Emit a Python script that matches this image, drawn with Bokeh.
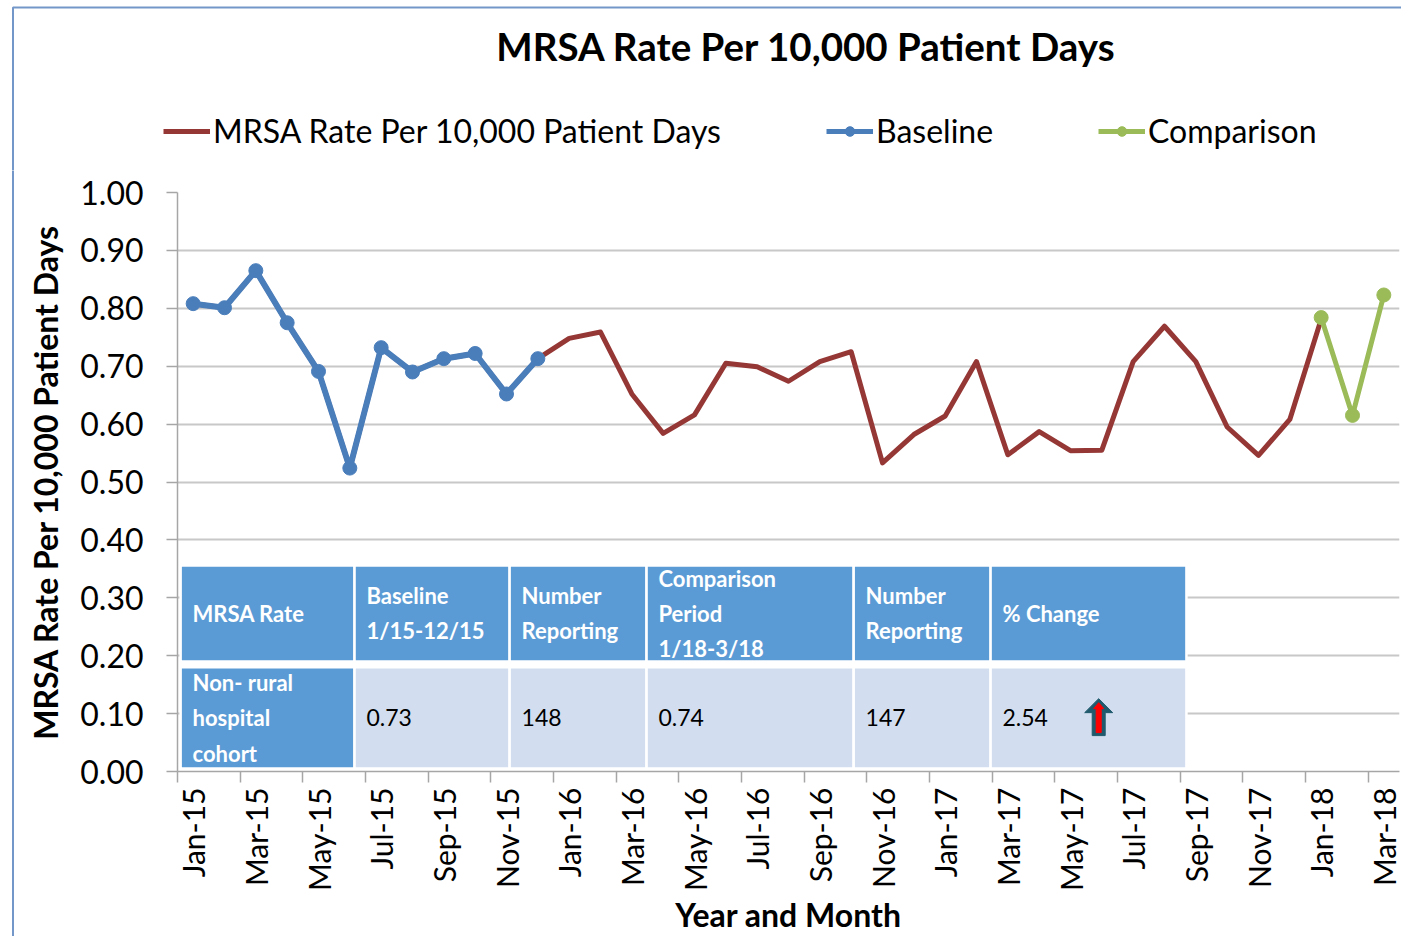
import math
from bokeh.plotting import figure
from bokeh.layouts import column, row
from bokeh.models import (Range1d, FixedTicker, Legend, LegendItem, PrintfTickFormatter, Label)
from bokeh.core.properties import value
from bokeh.embed import file_html
from bokeh.resources import INLINE

# ---------------- data ----------------
chart_title = "MRSA Rate Per 10,000 Patient Days"
series_names = ["MRSA Rate Per 10,000 Patient Days", "Baseline", "Comparison"]

months = ["Jan-15", "Feb-15", "Mar-15", "Apr-15", "May-15", "Jun-15", "Jul-15", "Aug-15",
          "Sep-15", "Oct-15", "Nov-15", "Dec-15",
          "Jan-16", "Feb-16", "Mar-16", "Apr-16", "May-16", "Jun-16", "Jul-16", "Aug-16",
          "Sep-16", "Oct-16", "Nov-16", "Dec-16",
          "Jan-17", "Feb-17", "Mar-17", "Apr-17", "May-17", "Jun-17", "Jul-17", "Aug-17",
          "Sep-17", "Oct-17", "Nov-17", "Dec-17",
          "Jan-18", "Feb-18", "Mar-18"]

# Baseline period (Jan-15 .. Dec-15)
baseline = [0.808, 0.801, 0.865, 0.775, 0.691, 0.524, 0.732, 0.690, 0.713, 0.722, 0.652, 0.713]

# MRSA rate (Jan-15 .. Jan-18)
rate = [0.808, 0.801, 0.865, 0.775, 0.691, 0.524, 0.732, 0.690, 0.713, 0.722, 0.652, 0.713,
        0.748, 0.759, 0.652, 0.584, 0.616, 0.705, 0.699, 0.674, 0.708, 0.725, 0.533, 0.582,
        0.614, 0.708, 0.547, 0.587, 0.554, 0.555, 0.708, 0.769, 0.708, 0.595, 0.546, 0.608,
        0.781]

# Comparison period (Jan-18 .. Mar-18)
comparison = [0.784, 0.615, 0.823]

y_ticks = [0.0, 0.1, 0.2, 0.3, 0.4, 0.5, 0.6, 0.7, 0.8, 0.9, 1.0]

table_header = ["MRSA Rate", "Baseline\n1/15-12/15", "Number\nReporting",
                "Comparison\nPeriod\n1/18-3/18", "Number\nReporting", "% Change"]
table_row_label = "Non- rural\nhospital\ncohort"
table_row_values = ["0.73", "148", "0.74", "147", "2.54"]

# ---------------- styles ----------------
FONT = "Lato"
RED = "#953735"
BLUE = "#4A7EBB"
GREEN = "#9BBB59"
HEAD_BLUE = "#5B9BD5"
CELL_LIGHT = "#D2DEEF"
FRAME_BLUE = "#7397C8"

W = 1401
HH = 170          # header (title + legend) height
HM = 766          # main chart height
SW = 14           # left strip width (chart-area border)
BL, BR, BT, BB = 177 - SW, 2, 22, 164

def blank(fig):
    fig.grid.visible = False
    fig.outline_line_color = None
    fig.background_fill_color = "white"
    fig.border_fill_color = "white"

# ---------------- header: title + legend ----------------
header = figure(width=W, height=HH, output_backend="svg", toolbar_location=None,
                x_range=Range1d(0, W), y_range=Range1d(HH, 0),
                x_axis_location=None, y_axis_location=None, min_border=0)
blank(header)

strip = figure(width=SW, height=HM, output_backend="svg", toolbar_location=None,
               x_range=Range1d(0, SW), y_range=Range1d(HM, 0),
               x_axis_location=None, y_axis_location=None, min_border=0)
blank(strip)

p = figure(width=W - SW, height=HM, output_backend="svg", toolbar_location=None,
           x_range=Range1d(-0.5, len(months) - 0.5), y_range=Range1d(0, 1),
           min_border_left=BL, min_border_right=BR, min_border_top=BT, min_border_bottom=BB)

for fig in (header, strip, p):
    fig.frame_align = False

# chart-area border (top and left edges)
header.line(x=[12.5, 12.5, W + 10], y=[HH + 10, 7, 7], line_color=FRAME_BLUE, line_width=2)
strip.line(x=[12.5, 12.5], y=[-10, HM + 10], line_color=FRAME_BLUE, line_width=2)

header.add_layout(Label(x=806, y=45, text=chart_title, text_align="center",
                        text_baseline="middle", text_font=FONT, text_font_size="38.5px",
                        text_font_style="bold", text_color="black"))

# legend proxies (kept outside the visible header area)
off = [-500, -400]
h_rate = header.line(x=off, y=off, line_color=RED, line_width=5)
h_base_l = header.line(x=off, y=off, line_color=BLUE, line_width=5)
h_base_m = header.scatter(x=off, y=off, size=11, fill_color=BLUE, line_color=BLUE)
h_comp_l = header.line(x=off, y=off, line_color=GREEN, line_width=5)
h_comp_m = header.scatter(x=off, y=off, size=11, fill_color=GREEN, line_color=GREEN)

legend_specs = [(series_names[0], [h_rate], 163),
                (series_names[1], [h_base_l, h_base_m], 826),
                (series_names[2], [h_comp_l, h_comp_m], 1098)]
for name, rends, lx in legend_specs:
    lg = Legend(items=[LegendItem(label=name, renderers=rends)], location=(lx, 20),
                orientation="horizontal")
    lg.label_text_font = FONT
    lg.label_text_font_size = "32px"
    lg.label_text_color = "black"
    lg.glyph_width = 47
    lg.glyph_height = 24
    lg.label_height = 24
    lg.label_standoff = 3
    lg.padding = 0
    lg.margin = 0
    lg.background_fill_alpha = 0
    lg.border_line_color = None
    header.add_layout(lg)

# ---------------- main chart ----------------
p.outline_line_color = None
p.background_fill_color = "white"
p.border_fill_color = "white"

x_all = list(range(len(months)))
x_rate = x_all[:len(rate)]
x_base = x_all[:len(baseline)]
x_comp = x_all[len(rate) - 1:len(rate) - 1 + len(comparison)]

p.line(x_rate, rate, line_color=RED, line_width=5, line_join="round")
p.line(x_base, baseline, line_color=BLUE, line_width=6, line_join="round")
p.scatter(x_base, baseline, size=14, fill_color=BLUE, line_color=BLUE)
p.line(x_comp, comparison, line_color=GREEN, line_width=5, line_join="round")
p.scatter(x_comp, comparison, size=14, fill_color=GREEN, line_color=GREEN)

# axes
xa = p.xaxis[0]
label_ticks = list(range(0, len(months), 2))
xa.ticker = FixedTicker(ticks=label_ticks, minor_ticks=[t - 0.5 for t in label_ticks])
xa.major_label_overrides = {t: months[t] for t in label_ticks}
xa.major_label_orientation = math.pi / 2
xa.major_tick_line_color = None
xa.major_tick_out = 11
xa.major_tick_in = 0
xa.minor_tick_out = 11
xa.minor_tick_in = 0
xa.minor_tick_line_color = "#A6A6A6"
xa.minor_tick_line_width = 1.5
xa.axis_line_color = "#A6A6A6"
xa.axis_line_width = 1.5
xa.major_label_text_font = FONT
xa.major_label_text_font_size = "30px"
xa.major_label_text_color = "black"
xa.major_label_standoff = 5
xa.axis_label = "Year and Month"
xa.axis_label_text_font = FONT
xa.axis_label_text_font_size = "32px"
xa.axis_label_text_font_style = "bold"
xa.axis_label_text_color = "black"
xa.axis_label_standoff = 1

ya = p.yaxis[0]
ya.ticker = FixedTicker(ticks=y_ticks, minor_ticks=[])
ya.formatter = PrintfTickFormatter(format="%.2f")
ya.major_tick_out = 11
ya.major_tick_in = 0
ya.major_tick_line_color = "#A6A6A6"
ya.major_tick_line_width = 1.5
ya.axis_line_color = "#A6A6A6"
ya.axis_line_width = 1.5
ya.major_label_text_font = FONT
ya.major_label_text_font_size = "32px"
ya.major_label_text_color = "black"
ya.major_label_standoff = 23
ya.axis_label = chart_title
ya.axis_label_text_font = FONT
ya.axis_label_text_font_size = "32px"
ya.axis_label_text_font_style = "bold"
ya.axis_label_text_color = "black"
ya.axis_label_standoff = 12

p.xgrid.visible = False
p.ygrid.ticker = ya.ticker
p.ygrid.grid_line_color = "#C8C8C8"
p.ygrid.grid_line_width = 2

# ---------------- summary table (overlay) ----------------
col_edges = [-0.40, 5.15, 10.10, 14.47, 21.08, 25.45, 31.70]
head_top, head_bot, body_top, body_bot = 0.356, 0.190, 0.180, 0.005
lefts, rights = col_edges[:-1], col_edges[1:]
n_cols = len(lefts)

p.quad(left=lefts, right=rights, top=[head_top] * n_cols, bottom=[head_bot] * n_cols,
       fill_color=HEAD_BLUE, line_color="white", line_width=2.5)
p.quad(left=lefts, right=rights, top=[body_top] * n_cols, bottom=[body_bot] * n_cols,
       fill_color=[HEAD_BLUE] + [CELL_LIGHT] * (n_cols - 1), line_color="white", line_width=2.5)

pad = 0.38
p.text(x=[l + pad for l in lefts], y=[(head_top + head_bot) / 2] * n_cols, text=table_header,
       text_color="white", text_font=value(FONT), text_font_style="bold",
       text_font_size="22px", text_baseline="middle", text_align="left", text_line_height=1.3)
p.text(x=[lefts[0] + pad], y=[(body_top + body_bot) / 2], text=[table_row_label],
       text_color="white", text_font=value(FONT), text_font_style="bold",
       text_font_size="22px", text_baseline="middle", text_align="left", text_line_height=1.3)
p.text(x=[l + pad for l in lefts[1:]], y=[(body_top + body_bot) / 2] * (n_cols - 1),
       text=table_row_values, text_color="black", text_font=value(FONT),
       text_font_size="23px", text_baseline="middle", text_align="left")

# up arrow in "% Change" cell (pixel shape converted to data units)
frame_w = (W - SW) - BL - BR
frame_h = HM - BT - BB
sx = frame_w / len(months)
sy = frame_h / 1.0
ax0 = lefts[5] + 3.45
ay0 = body_bot + 0.057
outer = [(0, 37), (14, 23), (6.5, 23), (6.5, 0), (-6.5, 0), (-6.5, 23), (-14, 23)]
inner = [(0, 33), (5, 27), (2.5, 27), (2.5, 3), (-2.5, 3), (-2.5, 27), (-5, 27)]
p.patch([ax0 + dx / sx for dx, dy in outer], [ay0 + dy / sy for dx, dy in outer],
        fill_color="#215A6D", line_color="#215A6D")
p.patch([ax0 + dx / sx for dx, dy in inner], [ay0 + dy / sy for dx, dy in inner],
        fill_color="#FF0000", line_color="#FF0000")

root = column(header, row(strip, p, spacing=0), spacing=0)
open("out.html", "w").write(file_html(root, INLINE))
